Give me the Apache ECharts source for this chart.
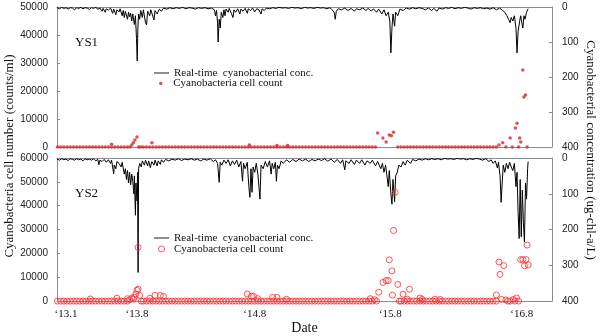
<!DOCTYPE html>
<html><head><meta charset="utf-8">
<script src="https://cdn.jsdelivr.net/npm/echarts@6/dist/echarts.min.js"></script>
<style>html,body{margin:0;padding:0;background:#fff}#c{width:600px;height:336px}</style>
</head><body><div id="c"></div>
<script>
// ---- DATA ----
// x values are months since Jan 2013 (0 = '13.1)
const tickMonths = [0, 6.7, 17.8, 30.6, 43.0];
const tickLabels = ["\u201813.1", "\u201813.8", "\u201814.8", "\u201815.8", "\u201816.8"];

const seriesLineName = "Real-time  cyanobacterial conc.";
const seriesCellName = "Cyanobacteria cell count";

// YS1 real-time cyanobacterial concentration (ug-chl-a/L), [month, value]
const ys1Realtime = [[-0.85,2],[-0.6,5],[-0.4,1],[-0.2,4],[0.0,2],[0.2,6],[0.4,2],[0.6,3],[0.8,8],[1.0,2],[1.2,4],[1.4,1],[1.6,5],[1.8,2],[2.0,3],[2.2,7],[2.4,2],[2.6,4],[2.8,1],[3.0,6],[3.2,3],[3.4,12],[3.5,4],[3.7,15],[3.8,5],[4.0,9],[4.2,3],[4.4,18],[4.5,6],[4.7,22],[4.8,8],[5.0,14],[5.1,5],[5.3,25],[5.4,10],[5.5,30],[5.6,12],[5.8,35],[5.9,15],[6.0,28],[6.1,18],[6.2,40],[6.3,20],[6.45,50],[6.55,25],[6.65,90],[6.72,154],[6.78,60],[6.85,20],[6.95,35],[7.05,10],[7.2,30],[7.3,8],[7.5,45],[7.6,51],[7.7,12],[7.9,25],[8.0,8],[8.3,37],[8.4,10],[8.6,20],[8.8,6],[9.0,12],[9.2,3],[9.5,6],[9.8,2],[10.1,5],[10.4,2],[10.7,4],[11.0,1],[11.3,5],[11.6,2],[11.9,3],[12.2,6],[12.5,2],[12.8,4],[13.1,2],[13.4,5],[13.7,3],[14.0,8],[14.1,25],[14.2,10],[14.3,45],[14.35,100],[14.45,35],[14.55,60],[14.65,15],[14.8,30],[14.9,8],[15.0,25],[15.1,6],[15.3,15],[15.4,4],[15.6,18],[15.75,30],[15.85,8],[16.0,15],[16.2,5],[16.4,20],[16.5,6],[16.7,12],[16.9,4],[17.1,18],[17.2,5],[17.4,10],[17.6,3],[17.8,14],[18.0,5],[18.2,8],[18.4,20],[18.5,5],[18.7,10],[18.9,3],[19.2,5],[19.5,2],[19.8,4],[20.1,1],[20.4,3],[20.7,2],[21.0,4],[21.3,1],[21.6,3],[21.9,2],[22.2,5],[22.5,1],[22.8,3],[23.1,2],[23.4,4],[23.7,1],[24.0,3],[24.3,2],[24.6,5],[24.9,2],[25.1,8],[25.3,15],[25.4,35],[25.5,12],[25.7,5],[26.0,8],[26.3,3],[26.6,10],[26.9,4],[27.2,12],[27.4,5],[27.7,8],[28.0,3],[28.3,10],[28.5,4],[28.8,12],[29.0,5],[29.3,15],[29.5,6],[29.8,20],[30.0,8],[30.2,25],[30.4,15],[30.55,40],[30.65,131],[30.75,60],[30.85,20],[31.0,55],[31.1,15],[31.3,25],[31.5,6],[31.8,10],[32.1,3],[32.4,6],[32.7,2],[33.0,5],[33.3,2],[33.6,4],[33.9,8],[34.2,3],[34.5,10],[34.7,4],[35.0,12],[35.2,3],[35.5,6],[35.8,2],[36.1,4],[36.4,1],[36.7,5],[37.0,2],[37.3,4],[37.6,1],[37.9,3],[38.2,6],[38.5,2],[38.8,4],[39.1,2],[39.4,5],[39.7,3],[40.0,6],[40.3,2],[40.6,8],[40.9,3],[41.2,10],[41.4,15],[41.6,25],[41.75,35],[41.9,45],[42.0,30],[42.15,40],[42.3,25],[42.45,60],[42.55,131],[42.65,70],[42.8,40],[42.9,25],[43.0,45],[43.1,60],[43.2,25],[43.3,35],[43.45,15],[43.6,5]];

// YS2 real-time cyanobacterial concentration (ug-chl-a/L), [month, value]
const ys2Realtime = [[-0.85,3],[-0.6,6],[-0.4,2],[-0.2,5],[0.0,3],[0.2,7],[0.4,2],[0.6,4],[0.8,6],[1.0,2],[1.2,5],[1.4,3],[1.6,8],[1.8,2],[2.0,5],[2.2,3],[2.4,6],[2.6,2],[2.8,8],[3.0,4],[3.1,19],[3.2,6],[3.4,10],[3.6,4],[3.8,12],[4.0,5],[4.2,15],[4.3,6],[4.5,44],[4.55,20],[4.7,30],[4.8,10],[5.0,15],[5.2,25],[5.3,12],[5.5,45],[5.6,30],[5.7,60],[5.8,35],[5.9,70],[6.0,40],[6.1,75],[6.2,45],[6.3,65],[6.4,100],[6.45,50],[6.55,160],[6.6,70],[6.7,120],[6.75,40],[6.8,320],[6.85,30],[6.95,15],[7.1,25],[7.2,8],[7.4,20],[7.5,6],[7.7,22],[7.8,8],[7.95,27],[8.1,10],[8.3,20],[8.4,6],[8.6,22],[8.7,8],[8.9,18],[9.0,5],[9.2,12],[9.4,4],[9.7,8],[10.0,3],[10.3,6],[10.6,2],[10.9,7],[11.2,3],[11.5,5],[11.8,2],[12.1,6],[12.4,3],[12.7,8],[13.0,3],[13.3,6],[13.6,2],[13.9,10],[14.1,5],[14.3,15],[14.45,68],[14.55,12],[14.7,20],[14.9,6],[15.1,15],[15.3,5],[15.5,22],[15.7,8],[15.9,18],[16.1,6],[16.3,25],[16.5,10],[16.65,65],[16.75,15],[16.9,30],[17.1,12],[17.25,80],[17.35,110],[17.45,30],[17.55,96],[17.65,25],[17.8,40],[17.95,15],[18.1,45],[18.2,80],[18.3,115],[18.4,20],[18.6,30],[18.8,10],[19.0,25],[19.2,8],[19.35,45],[19.45,15],[19.6,30],[19.75,12],[19.85,65],[19.95,20],[20.1,30],[20.3,8],[20.5,15],[20.8,5],[21.1,12],[21.4,4],[21.7,10],[22.0,3],[22.3,8],[22.6,3],[22.9,10],[23.2,4],[23.5,8],[23.8,3],[24.1,7],[24.4,2],[24.7,9],[25.0,3],[25.3,12],[25.6,4],[25.9,15],[26.1,5],[26.3,33],[26.4,8],[26.7,15],[26.9,5],[27.2,18],[27.4,6],[27.7,15],[27.9,5],[28.2,20],[28.4,8],[28.7,15],[28.9,6],[29.2,22],[29.4,10],[29.7,30],[29.85,15],[30.0,40],[30.15,20],[30.3,55],[30.4,80],[30.5,35],[30.65,100],[30.75,129],[30.85,60],[31.0,122],[31.1,50],[31.25,40],[31.4,20],[31.6,25],[31.8,10],[32.0,20],[32.2,6],[32.5,15],[32.7,4],[33.0,8],[33.3,3],[33.6,6],[33.9,2],[34.2,5],[34.5,2],[34.8,4],[35.1,2],[35.4,5],[35.7,1],[36.0,3],[36.3,2],[36.6,4],[36.9,1],[37.2,3],[37.5,2],[37.8,5],[38.1,2],[38.4,4],[38.7,1],[39.0,3],[39.3,6],[39.6,2],[39.9,10],[40.1,5],[40.3,15],[40.5,8],[40.7,28],[40.8,12],[40.95,50],[41.05,124],[41.15,70],[41.25,20],[41.4,40],[41.55,15],[41.7,30],[41.85,12],[42.0,25],[42.15,35],[42.3,15],[42.45,80],[42.55,40],[42.65,150],[42.75,225],[42.85,60],[42.95,220],[43.05,90],[43.15,180],[43.25,235],[43.35,70],[43.45,115],[43.55,30],[43.6,10]];

// Sampling dates (months) where cell counts read as ~0 at both stations
const sampleMonths = [-0.8,-0.5,-0.2,0.1,0.4,0.7,1.0,1.3,1.6,1.9,2.2,2.5,2.8,3.1,3.4,3.7,4.0,4.3,4.6,4.9,5.2,5.5,5.8,
7.3,7.6,7.9,8.2,8.5,8.8,9.1,9.4,9.7,10.0,10.3,10.6,10.9,11.2,11.5,11.8,12.1,12.4,12.7,13.0,13.3,13.6,13.9,14.2,14.5,14.8,15.1,15.4,15.7,16.0,16.3,16.6,16.9,17.2,17.5,17.8,18.1,18.4,18.7,19.0,19.3,19.6,19.9,20.2,20.5,20.8,21.1,21.4,21.7,22.0,22.3,22.6,22.9,23.2,23.5,23.8,24.1,24.4,24.7,25.0,25.3,25.6,25.9,26.2,26.5,26.8,27.1,27.4,27.7,28.0,28.3,28.6,28.9,
31.6,31.9,32.2,32.5,32.8,33.1,33.4,33.7,34.0,34.3,34.6,34.9,35.2,35.5,35.8,36.1,36.4,36.7,37.0,37.3,37.6,37.9,38.2,38.5,38.8,39.1,39.4,39.7,40.0,40.3,40.6];

// YS1 cell counts at other dates (counts/ml), [month, value]
const ys1Cells = [[4.3,1000],[6.05,0],[6.2,700],[6.35,1500],[6.5,2500],[6.7,3600],[6.85,0],[7.05,0],[8.1,1500],[17.3,700],[19.9,500],[20.9,500],
[29.2,0],[29.4,5000],[29.9,3200],[30.2,1800],[30.5,4300],[30.7,4000],[30.9,5300],[31.3,0],
[40.85,700],[41.2,1500],[41.5,0],[41.9,3200],[42.1,0],[42.4,6800],[42.55,8500],[42.7,0],[42.8,3200],[42.9,1800],[43.1,27500],[43.2,17900],[43.35,18600],[43.5,0]];

// YS2 cell counts at other dates (counts/ml), [month, value]
const ys2Cells = [[2.3,900],[4.8,1200],[5.8,1000],[6.0,600],[6.2,1300],[6.35,800],[6.45,1600],[6.6,3000],[6.7,4500],[6.8,5000],[6.8,22500],[6.95,2400],[7.1,0],[7.9,1200],[8.4,2400],[8.9,2400],[9.2,2000],
[17.1,3000],[17.5,2000],[17.7,2000],[18.1,1000],[19.5,1600],[19.9,1600],[20.8,800],
[28.7,1000],[29.1,600],[29.3,0],[29.5,3700],[29.9,7800],[30.2,8600],[30.4,8600],[30.5,17300],[30.75,12700],[30.8,2500],[30.9,29600],[31.05,45600],[31.3,7000],[31.45,0],
[31.8,2900],[32.2,800],[32.4,5000],[33.4,1300],[33.6,700],[34.8,800],[35.3,700],
[40.6,2600],[40.85,16400],[40.95,11200],[41.1,700],[41.3,14900],[41.5,500],[41.7,0],[41.9,0],[42.2,700],[42.35,0],[42.5,1300],[42.7,0],[42.9,17400],[43.1,17400],[43.25,14800],[43.4,17400],[43.5,23500],[43.6,15200]];

// ---- CHART ----
const SERIF = "'Liberation Serif','Times New Roman',serif";
const SANS = "'Liberation Sans',Arial,sans-serif";
const AXIS_GRAY = '#8c8c8c';
const RED_DOT = '#d9252a';
const RED_RING = '#ff2b2b';
const X_MIN = -0.85, X_MAX = 45.85;

function xAxisDef(grid, pos, withLabels) {
  const a = {
    type: 'value', gridIndex: grid, position: pos, min: X_MIN, max: X_MAX,
    splitLine: {show: false},
    axisTick: {show: false},
    axisLine: {show: true, onZero: false, lineStyle: {color: AXIS_GRAY, width: 1}},
    axisLabel: {show: false}
  };
  if (withLabels) {
    a.axisLabel = {
      show: true, customValues: tickMonths, margin: 8,
      fontFamily: SERIF, fontSize: 11, color: '#111',
      formatter: function (v) {
        for (let i = 0; i < tickMonths.length; i++) if (Math.abs(tickMonths[i] - v) < 1e-6) return tickLabels[i];
        return '';
      }
    };
    a.name = 'Date';
    a.nameLocation = 'middle';
    a.nameGap = 17;
    a.nameTextStyle = {fontFamily: SERIF, fontSize: 14, color: '#111'};
  }
  return a;
}
function yAxisDef(grid, pos, max, interval, inverse) {
  return {
    type: 'value', gridIndex: grid, position: pos, min: 0, max: max, interval: interval, inverse: inverse,
    splitLine: {show: false},
    axisLine: {show: true, onZero: false, lineStyle: {color: AXIS_GRAY, width: 1}},
    axisTick: {show: true, inside: true, length: 3, lineStyle: {color: AXIS_GRAY}},
    axisLabel: {fontFamily: SANS, fontSize: 10, color: '#222', margin: pos === 'left' ? 9 : 10,
                formatter: function (v) { return String(v); }}
  };
}
function legendRow(name, left, top, icon, h, style) {
  return {
    left: left, top: top, padding: 0, orient: 'vertical', itemWidth: 15, itemHeight: h,
    selectedMode: false,
    textStyle: {fontFamily: SERIF, fontSize: 11, color: '#111', lineHeight: 11},
    data: [{name: name, icon: icon, itemStyle: style}]
  };
}

const zeros = sampleMonths.map(m => [m, 0]);
const ringStyle = {color: 'rgba(0,0,0,0)', borderColor: RED_RING, borderWidth: 1};

const option = {
  animation: false,
  backgroundColor: '#fff',
  grid: [
    {left: 57, right: 48, top: 7, height: 140},
    {left: 57, right: 48, top: 158, height: 146}
  ],
  xAxis: [
    xAxisDef(0, 'bottom', false), xAxisDef(0, 'top', false),
    xAxisDef(1, 'bottom', true), xAxisDef(1, 'top', false)
  ],
  yAxis: [
    yAxisDef(0, 'left', 50000, 10000, false),
    yAxisDef(0, 'right', 400, 100, true),
    yAxisDef(1, 'left', 60000, 10000, false),
    yAxisDef(1, 'right', 400, 100, true)
  ],
  legend: [
    legendRow(seriesLineName, 154, 67.5, 'rect', 1.2, {color: '#444', borderWidth: 0}),
    legendRow(seriesCellName, 159, 78, 'circle', 3.5, {color: RED_DOT, borderWidth: 0}),
    legendRow(seriesLineName, 154, 232.5, 'rect', 1.2, {color: '#444', borderWidth: 0}),
    legendRow(seriesCellName, 158, 243.5, 'circle', 6, ringStyle)
  ],
  graphic: [
    {type: 'text', left: 75, top: 36.5, style: {text: 'YS1', fontFamily: SERIF, fontSize: 13, fill: '#111'}},
    {type: 'text', left: 75, top: 187.5, style: {text: 'YS2', fontFamily: SERIF, fontSize: 13, fill: '#111'}},
    {type: 'text', x: 10, y: 156, rotation: Math.PI / 2,
     style: {text: 'Cyanobacteria cell number (counts/ml)', fontFamily: SERIF, fontSize: 13, fill: '#111', align: 'center', verticalAlign: 'middle'}},
    {type: 'text', x: 590, y: 150, rotation: -Math.PI / 2,
     style: {text: 'Cyanobacterial concentration (ug-chl-a/L)', fontFamily: SERIF, fontSize: 13, fill: '#111', align: 'center', verticalAlign: 'middle'}}
  ],
  series: [
    {name: seriesLineName, type: 'line', xAxisIndex: 0, yAxisIndex: 1, data: ys1Realtime,
     symbol: 'none', lineStyle: {color: '#000', width: 1}, itemStyle: {color: '#000'}, z: 3},
    {name: seriesCellName, type: 'scatter', xAxisIndex: 0, yAxisIndex: 0, data: zeros.concat(ys1Cells),
     symbol: 'circle', symbolSize: 3.5, itemStyle: {color: RED_DOT}, z: 4},
    {name: seriesLineName, type: 'line', xAxisIndex: 2, yAxisIndex: 3, data: ys2Realtime,
     symbol: 'none', lineStyle: {color: '#000', width: 1}, itemStyle: {color: '#000'}, z: 3},
    {name: seriesCellName, type: 'scatter', xAxisIndex: 2, yAxisIndex: 2, data: zeros.concat(ys2Cells),
     symbol: 'circle', symbolSize: 6, itemStyle: ringStyle, z: 4}
  ]
};

const chart = echarts.init(document.getElementById('c'), null, {renderer: 'canvas'});
chart.setOption(option);
</script></body></html>
